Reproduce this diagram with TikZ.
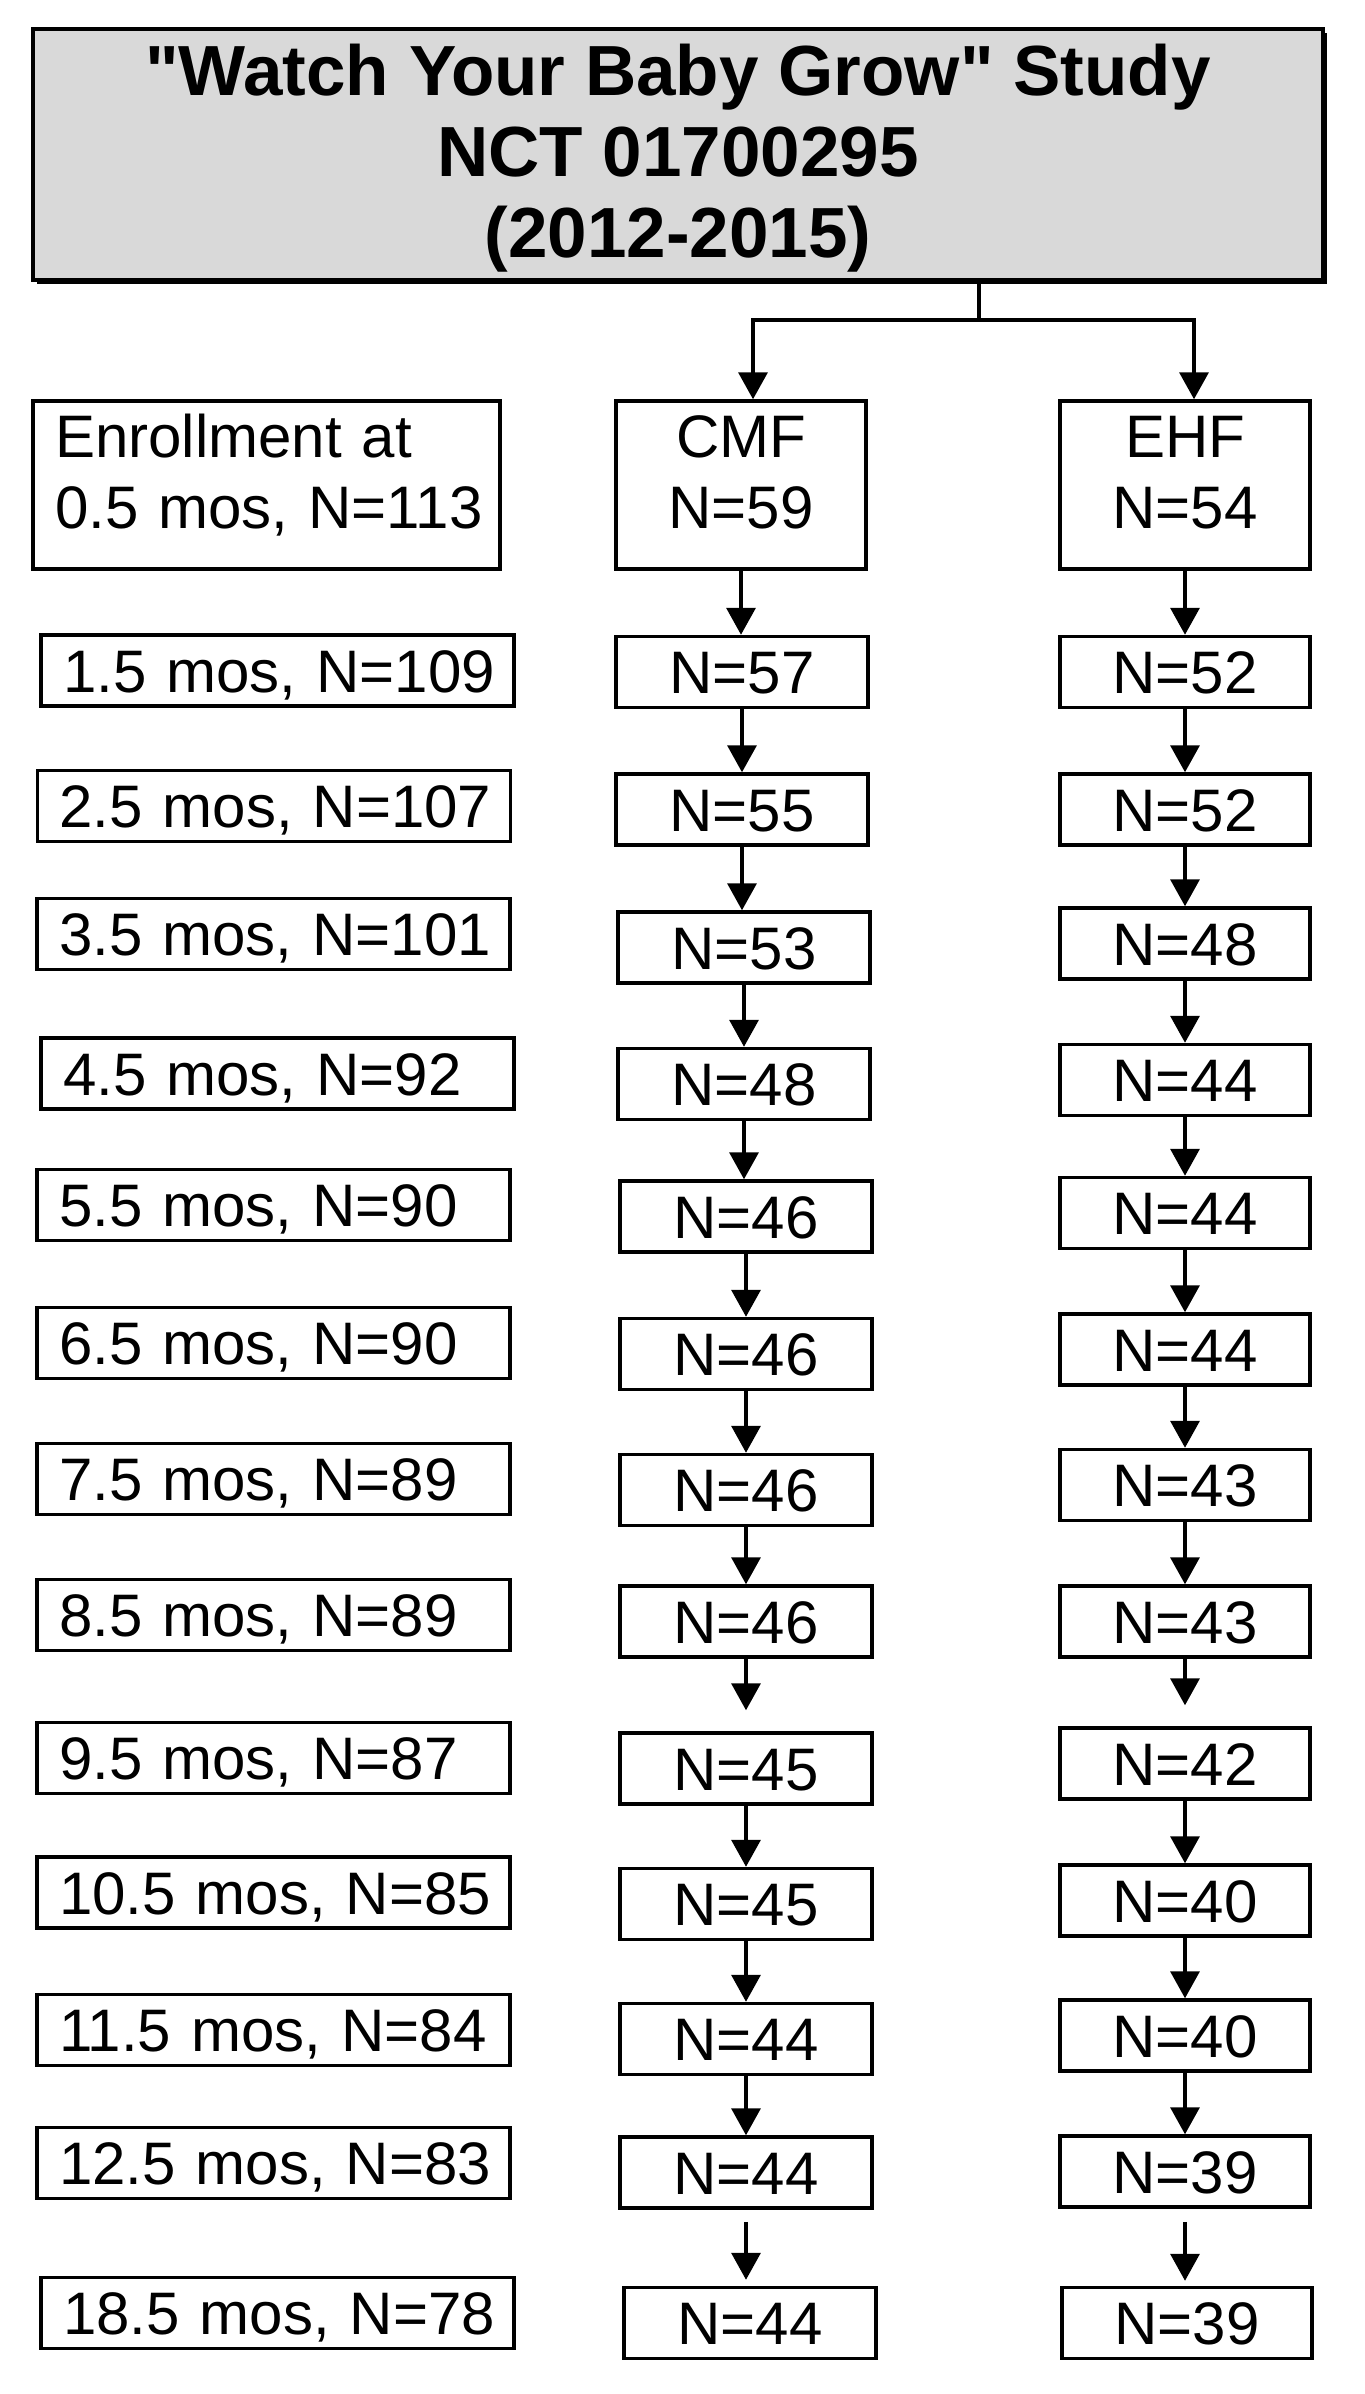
\documentclass[tikz,border=0pt]{standalone}
\usepackage{fontspec}
\setmainfont{Liberation Sans}[Ligatures=TeXOff]
\usetikzlibrary{arrows.meta,shadows}
\definecolor{titlegray}{HTML}{D9D9D9}
\begin{document}
\begin{tikzpicture}[x=1pt,y=-1pt,
  bx/.style={draw, line width=3.5pt, inner sep=0pt, font=\fontsize{60}{71}\selectfont,
    text height=43pt, text depth=0pt, minimum height=71pt},
  lbox/.style={bx, align=left, text width=429pt, inner xsep=22pt},
  cbox/.style={bx, align=center, minimum width=252pt},
  ebox/.style={bx, align=center, minimum width=250pt},
  hdr/.style={minimum height=168pt, text height=114pt, text depth=28pt},
  titlebox/.style={draw, line width=4pt, fill=titlegray, inner sep=0pt,
    minimum width=1290pt, minimum height=251pt, align=center,
    font=\bfseries\fontsize{71}{81}\selectfont, text height=213pt, text depth=8pt,
    drop shadow={shadow xshift=4pt, shadow yshift=-4pt, fill=black, opacity=1}},
  conn/.style={line width=3.5pt},
  arr/.style={line width=3.5pt, -{Triangle[width=29pt,length=27pt]}}
]
\useasboundingbox (0,0) rectangle (1365,2394);

\node[titlebox] (title) at (678,154.5) {"Watch Your Baby Grow" Study\\NCT 01700295\\(2012-2015)};

% header row
\node[lbox, minimum height=168pt, text width=423pt, text height=43pt, text depth=99pt] (l0) at (266.5,485) {\mbox{Enrollment at}\\\mbox{0.5 mos, N=113}};
\node[cbox, hdr, minimum width=250pt] (c0) at (741,485) {CMF\\N=59};
\node[ebox, hdr] (e0) at (1185,485) {EHF\\N=54};

% left column
\node[lbox] (l1) at (277.5,670.5) {\mbox{1.5 mos, N=109}};
\node[lbox] (l2) at (274,806) {\mbox{2.5 mos, N=107}};
\node[lbox] (l3) at (273.5,934) {\mbox{3.5 mos, N=101}};
\node[lbox] (l4) at (277.5,1073.5) {\mbox{4.5 mos, N=92}};
\node[lbox] (l5) at (273.5,1205) {\mbox{5.5 mos, N=90}};
\node[lbox] (l6) at (273.5,1343) {\mbox{6.5 mos, N=90}};
\node[lbox] (l7) at (273.5,1479) {\mbox{7.5 mos, N=89}};
\node[lbox] (l8) at (273.5,1615) {\mbox{8.5 mos, N=89}};
\node[lbox] (l9) at (273.5,1758) {\mbox{9.5 mos, N=87}};
\node[lbox] (l10) at (273.5,1892.5) {\mbox{10.5 mos, N=85}};
\node[lbox] (l11) at (273.5,2030) {\mbox{11.5 mos, N=84}};
\node[lbox] (l12) at (273.5,2163) {\mbox{12.5 mos, N=83}};
\node[lbox] (l13) at (277.5,2313) {\mbox{18.5 mos, N=78}};

% CMF column
\node[cbox] (c1) at (742,672) {N=57};
\node[cbox] (c2) at (742,809.5) {N=55};
\node[cbox] (c3) at (744,947.5) {N=53};
\node[cbox] (c4) at (744,1084) {N=48};
\node[cbox] (c5) at (746,1216.5) {N=46};
\node[cbox] (c6) at (746,1354) {N=46};
\node[cbox] (c7) at (746,1490) {N=46};
\node[cbox] (c8) at (746,1621.5) {N=46};
\node[cbox] (c9) at (746,1768.5) {N=45};
\node[cbox] (c10) at (746,1904) {N=45};
\node[cbox] (c11) at (746,2039) {N=44};
\node[cbox] (c12) at (746,2172.5) {N=44};
\node[cbox] (c13) at (750,2323) {N=44};

% EHF column
\node[ebox] (e1) at (1185,672) {N=52};
\node[ebox] (e2) at (1185,809.5) {N=52};
\node[ebox] (e3) at (1185,943.5) {N=48};
\node[ebox] (e4) at (1185,1080) {N=44};
\node[ebox] (e5) at (1185,1213) {N=44};
\node[ebox] (e6) at (1185,1349.5) {N=44};
\node[ebox] (e7) at (1185,1485) {N=43};
\node[ebox] (e8) at (1185,1621.5) {N=43};
\node[ebox] (e9) at (1185,1763.5) {N=42};
\node[ebox] (e10) at (1185,1900.5) {N=40};
\node[ebox] (e11) at (1185,2035.5) {N=40};
\node[ebox] (e12) at (1185,2171.5) {N=39};
\node[ebox] (e13) at (1187,2323) {N=39};

% split from title
\coordinate (split) at (979,320);
\coordinate (cin) at (753,320);
\coordinate (ein) at (1194,320);
\draw[conn] (title.south -| split) -- (split);
\draw[arr] (split) -| (cin |- c0.north);
\draw[arr] (split) -| (ein |- e0.north);

% regular arrows
\foreach \a/\b in {0/1,1/2,2/3,3/4,4/5,5/6,6/7,7/8,9/10,10/11,11/12}{
  \draw[arr] (c\a.south) -- (c\a.south |- c\b.north);
  \draw[arr] (e\a.south) -- (e\a.south |- e\b.north);
}

% arrows with gaps
\coordinate (c9t) at ([yshift=21pt]c9.north);
\coordinate (e9t) at ([yshift=21pt]e9.north);
\draw[arr] (c8.south) -- (c8.south |- c9t);
\draw[arr] (e8.south) -- (e8.south |- e9t);
\coordinate (c12b) at ([yshift=-12pt]c12.south);
\coordinate (e12b) at ([yshift=-13pt]e12.south);
\coordinate (c13t) at ([yshift=6pt]c13.north);
\coordinate (e13t) at ([yshift=5pt]e13.north);
\draw[arr] (c12b) -- (c12b |- c13t);
\draw[arr] (e12b) -- (e12b |- e13t);
\end{tikzpicture}
\end{document}
